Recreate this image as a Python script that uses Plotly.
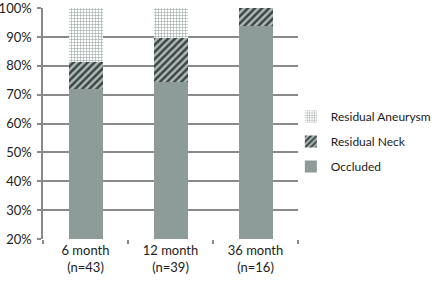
import plotly.graph_objects as go

categories = ["6 month<br>(n=43)", "12 month<br>(n=39)", "36 month<br>(n=16)"]
occluded = [0.721, 0.744, 0.9375]
residual_neck = [0.093, 0.154, 0.0625]
residual_aneurysm = [0.186, 0.102, 0.0]
tick_vals = [0.2, 0.3, 0.4, 0.5, 0.6, 0.7, 0.8, 0.9, 1.0]

FONT = "Lato"
fig = go.Figure()
fig.add_trace(go.Bar(
    x=categories, y=occluded, name="Occluded", legendgroup="a", legendrank=3,
    marker=dict(color="#8d9b99", line=dict(width=0)),
))
fig.add_trace(go.Bar(
    x=categories, y=residual_neck, name="Residual Neck", legendgroup="b", legendrank=2,
    marker=dict(color="#b0bab8", line=dict(width=0),
                pattern=dict(shape="/", fgcolor="#3a4442", bgcolor="#b0bab8",
                             size=5, solidity=0.5)),
))
fig.add_trace(go.Bar(
    x=categories, y=residual_aneurysm, name="Residual Aneurysm", legendgroup="c", legendrank=1,
    marker=dict(color="#ffffff", line=dict(width=0),
                pattern=dict(shape="+", fgcolor="#9aa3a3", bgcolor="#ffffff",
                             size=3, solidity=0.35)),
))

fig.update_layout(
    template="none",
    barmode="stack",
    bargap=0.6,
    width=440, height=282,
    margin=dict(l=43, r=142, t=8, b=43, autoexpand=False),
    paper_bgcolor="white", plot_bgcolor="white",
    font=dict(family=FONT, size=13, color="#222222"),
    showlegend=True,
    legend=dict(
        traceorder="grouped", tracegroupgap=6,
        xref="container", yref="container",
        x=0.661, y=0.638, xanchor="left", yanchor="top",
        font=dict(family=FONT, size=12, color="#222222"),
        itemwidth=30, bgcolor="rgba(0,0,0,0)",
    ),
    xaxis=dict(
        showgrid=False, showline=False, ticks="outside", tickson="boundaries",
        ticklen=4, tickcolor="#8a8a8a", tickwidth=1.5, automargin=False,
        ticklabelstandoff=2,
        tickfont=dict(family=FONT, size=13, color="#222222"),
    ),
    yaxis=dict(
        range=[0.2, 1.0005], tickvals=tick_vals, tickformat=".0%",
        showgrid=True, gridcolor="#8a8a8a", gridwidth=1.5,
        showline=True, linecolor="#8a8a8a", linewidth=1.5,
        ticks="outside", ticklen=4, tickcolor="#8a8a8a", tickwidth=1.5,
        automargin=False, ticklabelstandoff=3,
        ticklabeloverflow="allow",
        tickfont=dict(family=FONT, size=13, color="#222222"),
        zeroline=False,
    ),
)

fig.write_html("out.html", config={"displayModeBar": False},
               post_script="document.body.style.margin='0';")
